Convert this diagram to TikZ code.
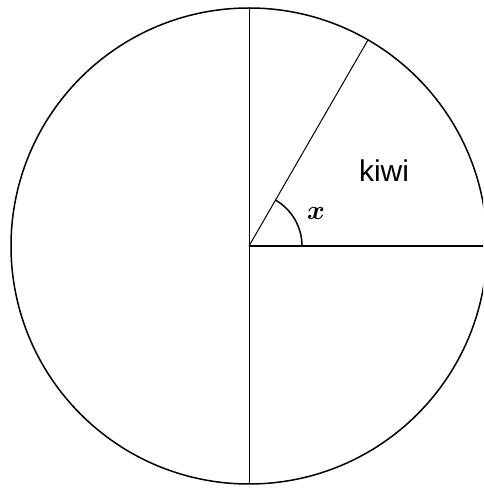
\documentclass[tikz,border=0pt]{standalone}
\usepackage{amsmath,bm}
\usepackage{fontspec}
\newfontfamily\labelfont{Liberation Sans}
\usetikzlibrary{calc}
\tikzset{
  rimline/.style={draw=black, line width=1.5pt},
  radline/.style={draw=black, line width=1pt},
  zeroline/.style={draw=black, line width=2pt},
  anglearc/.style={draw=black, line width=1.5pt},
  sectorlabel/.style={font=\labelfont\fontsize{30}{36}\selectfont, inner sep=0pt},
  anglelabel/.style={inner sep=0pt}
}

\begin{document}
\begin{tikzpicture}[x=1pt,y=1pt]
\useasboundingbox (0,0) rectangle (483,488);
\clip (0,0) rectangle (483,488);
\coordinate (O) at (249,242);
\coordinate (top) at ($(O)+(90:238)$);
\coordinate (bot) at ($(O)+(270:238)$);
\coordinate (east) at ($(O)+(0:238)$);
\coordinate (rim60) at ($(O)+(60:238)$);
\draw[rimline] (O) circle (238);
\draw[radline] (top) -- (bot);
\draw[radline] (O) -- (rim60);
\draw[zeroline] (O) -- (east);
\draw[anglearc] ($(O)+(0:53)$) arc[start angle=0, end angle=60, radius=53];
\node[sectorlabel] (kiwi) at (384,317) {kiwi};
\node[anglelabel] (ang) at (316,274) {\scalebox{2.7}{$\bm{x}$}};
\end{tikzpicture}
\end{document}
